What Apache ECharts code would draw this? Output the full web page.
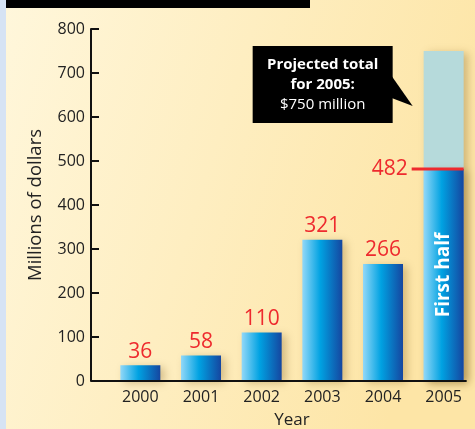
<!DOCTYPE html>
<html><head><meta charset="utf-8">
<script src="https://cdn.jsdelivr.net/npm/echarts@6/dist/echarts.min.js"></script>
<style>html,body{margin:0;padding:0;}#c{width:475px;height:429px;}</style>
</head><body><div id="c"></div>
<script>
const categories = ['2000','2001','2002','2003','2004','2005'];
const values = [36, 58, 110, 321, 266, 482];
const projected = [null, null, null, null, null, 750];
const yTicks = [0, 100, 200, 300, 400, 500, 600, 700, 800];
const firstHalfLabel = 'First half';

const FONT = '"Open Sans", "Noto Sans", sans-serif';
const RED = '#ee2a2e';
const chart = echarts.init(document.getElementById('c'), null, {renderer: 'canvas'});

const barGradient = new echarts.graphic.LinearGradient(0, 0, 1, 0, [
  {offset: 0, color: '#92d8f8'},
  {offset: 0.45, color: '#00a2e2'},
  {offset: 1, color: '#1546a0'}
]);

const lastIdx = values.length - 1;

const mainData = values.map((v, i) => {
  if (i === lastIdx) {
    return {value: v, label: {show: true, position: 'inside', rotate: 90, formatter: firstHalfLabel,
      color: '#fff', fontWeight: 'bold', fontSize: 19, fontFamily: FONT}};
  }
  return v;
});

const decor = [
  {type: 'rect', left: 0, top: 0, shape: {width: 6, height: 429}, style: {fill: '#d6e3f4'}, z: 1},
  {type: 'rect', left: 6, top: 0, shape: {width: 304, height: 8}, style: {fill: '#000'}, z: 1}
];

chart.setOption({
  animation: false,
  backgroundColor: new echarts.graphic.LinearGradient(0, 0, 1, 0.35, [
    {offset: 0, color: '#fff7dc'},
    {offset: 1, color: '#fde5a6'}
  ]),
  graphic: decor,
  grid: {left: 110, right: 1, top: 29, bottom: 48, outerBoundsMode: 'none', containLabel: false},
  xAxis: {
    type: 'category', data: categories,
    axisLine: {show: false}, axisTick: {show: false},
    axisLabel: {color: '#222', fontSize: 16, fontFamily: FONT, margin: 8},
    name: 'Year', nameLocation: 'middle', nameGap: 31,
    nameTextStyle: {color: '#222', fontSize: 17, fontFamily: FONT}
  },
  yAxis: {
    type: 'value', min: 0, max: 800, interval: 100, offset: 19,
    axisLine: {show: true, lineStyle: {color: '#111', width: 2}},
    axisTick: {show: true, inside: true, length: 8, lineStyle: {color: '#111', width: 2}},
    splitLine: {show: false},
    axisLabel: {color: '#222', fontSize: 16, fontFamily: FONT, margin: 6,
      formatter: v => yTicks.includes(v) ? String(v) : ''},
    name: 'Millions of dollars', nameLocation: 'middle', nameRotate: 90, nameGap: 46,
    nameTextStyle: {color: '#222', fontSize: 18.5, fontFamily: FONT}
  },
  series: [
    {
      type: 'bar', data: projected, barWidth: 40, barGap: '-100%', z: 2,
      itemStyle: {color: '#b6dadb', shadowColor: 'rgba(130,95,30,0.35)', shadowBlur: 8, shadowOffsetX: 4, shadowOffsetY: 2}
    },
    {
      type: 'bar', data: mainData, barWidth: 40, barGap: '-100%', z: 3,
      itemStyle: {color: barGradient, shadowColor: 'rgba(130,95,30,0.35)', shadowBlur: 8, shadowOffsetX: 4, shadowOffsetY: 2},
      label: {show: true, position: 'top', distance: 3, color: RED, fontSize: 21, fontFamily: FONT}
    },
    {
      type: 'custom', z: 10, silent: true, clip: false,
      data: [[lastIdx, values[lastIdx], projected[lastIdx]]],
      encode: {x: 0, y: 1},
      renderItem: function (params, api) {
        const p = api.coord([api.value(0), api.value(1)]);
        const cx = p[0], cy = p[1];
        const tipX = cx - 31, tipY = cy - 63;
        const boxR = tipX - 20, boxW = 140, boxT = tipY - 60, boxH = 77;
        const boxL = boxR - boxW, mid = boxL + boxW / 2;
        return {
          type: 'group',
          children: [
            {type: 'line', shape: {x1: cx - 32, y1: cy, x2: cx + 20, y2: cy}, style: {stroke: RED, lineWidth: 3}},
            {type: 'text', style: {text: String(api.value(1)), x: cx - 36, y: cy, align: 'right', verticalAlign: 'middle',
              fill: RED, fontSize: 21, fontFamily: FONT}},
            {type: 'rect', shape: {x: boxL, y: boxT, width: boxW, height: boxH}, style: {fill: '#000'}},
            {type: 'polygon', shape: {points: [[boxR - 1, boxT + 30], [tipX, tipY], [boxR - 1, boxT + 52]]}, style: {fill: '#000'}},
            {type: 'text', style: {text: 'Projected total', x: mid, y: boxT + 19, align: 'center', verticalAlign: 'middle',
              fill: '#fff', fontSize: 15, fontWeight: 'bold', fontFamily: FONT}},
            {type: 'text', style: {text: 'for 2005:', x: mid, y: boxT + 39, align: 'center', verticalAlign: 'middle',
              fill: '#fff', fontSize: 15, fontWeight: 'bold', fontFamily: FONT}},
            {type: 'text', style: {text: '$' + api.value(2) + ' million', x: mid, y: boxT + 59, align: 'center', verticalAlign: 'middle',
              fill: '#fff', fontSize: 15, fontFamily: FONT}}
          ]
        };
      }
    }
  ]
});

// x-axis baseline, from the y-axis line to the last bar's edge
const y0 = chart.convertToPixel({yAxisIndex: 0}, 0);
const xLast = chart.convertToPixel({xAxisIndex: 0}, categories[lastIdx]);
const yAxisX = chart.getModel().getComponent('grid').coordinateSystem.getRect().x - 19;
chart.setOption({
  graphic: decor.concat([
    {type: 'line', shape: {x1: yAxisX, y1: y0, x2: xLast + 23, y2: y0}, style: {stroke: '#111', lineWidth: 2}, z: 5}
  ])
});
</script>
</body></html>
